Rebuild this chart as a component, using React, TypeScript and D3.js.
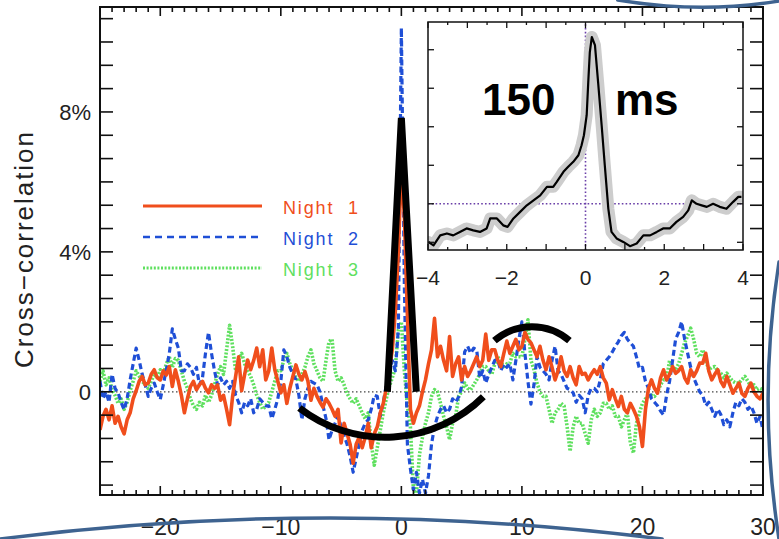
import React from "react";
import * as d3 from "d3";

// Lag axis of the three nightly cross-correlation traces (seconds)
const LAG_START = -25;
const LAG_STEP = 0.25;

// Night 1 cross-correlation, % (one value per 0.25 s of lag, -25 … 30)
const night1: number[] = [
  -1.09, -0.7, -0.5, -0.8, -0.4, -0.9, -0.7, -1.0, -1.2, -0.8, -0.6, -0.2,
  0.03, 0.3, 0.44, 0.2, 0.25, 0.5, 0.63, 0.4, 0.34, 0.6, 0.48, 0.72,
  0.15, 0.63, 0.3, -0.1, -0.6, -0.2, 0.15, 0.3, 0.06, 0.2, 0.3, 0.1,
  -0.03, 0.2, 0.1, 0.2, -0.24, -0.1, -0.5, -0.94, -0.13, 0.44, 1.0, 0.03,
  0.5, 0.91, 0.63, 0.9, 1.25, 0.72, 1.2, 0.34, 0.6, 1.25, 0.63, 0.3,
  -0.03, 0.2, -0.33, 0.1, 0.44, 0.77, 0.5, 0.34, 0.58, 0.3, -0.24, 0.1,
  -0.13, -0.3, -0.44, -0.2, -0.33, -0.5, -0.7, -0.5, -1.46, -0.9, -1.2, -1.5,
  -2.04, -1.5, -1.3, -1.6, -1.3, -0.9, -1.6, -1.2, -1.0, -0.6, -0.33, 0.1,
  0.63, 1.2, 2.3, 4.0, 6.5, 5.0, 2.2, -0.5, -0.9, -0.6, -0.4, 0.0,
  0.34, 0.8, 1.2, 2.1, 1.0, 1.3, 0.9, 0.6, 1.58, 0.44, 0.8, 1.0,
  0.34, 0.72, 0.44, 0.6, 0.8, 1.0, 0.72, 0.9, 1.65, 0.9, 1.2, 1.2,
  0.9, 0.72, 1.1, 1.45, 1.1, 1.3, 1.5, 1.2, 1.3, 1.7, 1.5, 1.4,
  1.2, 1.0, 1.3, 0.9, 0.63, 1.0, 0.7, 0.34, 0.6, 1.0, 0.6, 0.44,
  0.72, 0.4, 0.2, 0.72, 0.5, 0.53, 0.34, 0.5, 0.63, 0.5, 0.72, 0.4,
  0.25, -0.23, 0.06, -0.2, -0.42, -0.13, -0.5, -0.6, -0.33, -0.5, -0.7, -0.99,
  -1.56, -0.5, 0.1, 0.34, 0.1, -0.04, 0.4, 0.63, 0.34, 0.5, 0.72, 0.53,
  0.6, 0.72, 0.4, 0.25, 0.63, 0.44, 0.6, 0.82, 0.82, 1.1, 0.6, 0.34,
  0.5, 0.63, 0.3, 0.15, 0.44, 0.2, -0.04, 0.1, 0.25, -0.05, -0.13, 0.1,
  0.25, 0.0, -0.13, -0.2, -0.04,
];

// Night 2 cross-correlation, %
const night2: number[] = [
  0.3, -0.2, 0.0, -0.3, 0.5, 0.1, -0.03, -0.3, -0.51, -0.2, 0.34, 0.8,
  1.25, 0.9, 0.5, 0.2, -0.13, 0.1, 0.25, 0.0, -0.22, 0.2, 0.63, 1.1,
  1.8, 1.5, 1.25, 0.6, 0.6, 0.8, 0.7, 0.5, 0.7, 0.2, 0.4, 1.1,
  1.7, 1.1, 0.6, 0.2, 0.4, 0.2, 0.3, 0.1, 0.3, -0.1, -0.3, -0.6,
  -0.3, -0.4, -0.2, -0.6, -0.5, -0.2, -0.3, -0.4, -0.4, -0.77, -0.5, -0.2,
  0.3, 1.2, 1.0, 0.7, 0.5, 0.35, -0.1, -0.8, -0.2, 0.1, 0.3, 0.25,
  0.2, 0.0, -0.4, -0.77, -1.37, -1.1, -0.9, -0.7, -1.0, -1.25, -1.5, -1.85,
  -2.3, -1.9, -1.5, -1.1, -0.9, -0.8, -0.5, -0.1, -0.13, -0.7, -0.3, 0.2,
  0.5, 0.9, 0.6, 1.8, 10.4, 3.0, -1.5, -2.2, -2.8, -2.3, -2.9, -2.5,
  -2.9, -2.4, -1.5, -1.0, -0.7, -0.5, -0.4, -0.6, -0.5, -0.2, -0.3, -0.15,
  0.15, 1.14, 1.3, 1.1, 1.25, 1.2, 0.4, 0.6, 0.25, 0.5, 0.7, 0.9,
  0.9, 0.6, 0.8, 0.7, 0.8, 0.34, 0.9, 1.5, 2.0, 1.1, 0.3, -0.35,
  0.2, 1.0, 0.7, 0.6, 0.5, 0.34, 0.9, 1.3, 0.6, 0.5, 0.3, 0.1,
  0.06, -0.03, -0.3, -0.1, -0.2, -0.6, -0.1, 0.1, 0.1, 0.0, 0.34, 0.8,
  0.9, 1.0, 1.14, 1.3, 1.43, 1.6, 1.7, 1.5, 1.4, 1.3, 1.0, 0.66,
  0.7, 0.3, 0.1, -0.2, -0.3, -0.4, -0.55, -0.66, -0.1, 0.3, 0.9, 1.5,
  1.7, 2.0, 1.5, 1.1, 0.7, 0.4, 0.2, 0.0, -0.1, -0.4, -0.3, -0.5,
  -0.7, -0.5, -0.65, -0.94, -0.8, -1.0, -0.6, -0.3, -0.4, -0.2, -0.3, -0.5,
  -0.4, -0.6, -0.9, -0.7, -1.1,
];

// Night 3 cross-correlation, %
const night3: number[] = [
  0.3, 0.6, 0.2, 0.4, 0.06, -0.1, -0.33, -0.2, -0.5, -0.3, 0.03, 0.3,
  0.6, 0.45, 0.3, 0.2, 0.1, 0.3, 0.5, 0.4, 0.63, 0.5, 0.8, 1.0,
  0.7, 0.95, 0.9, 0.6, 0.3, 0.1, -0.2, -0.4, -0.5, -0.3, -0.4, -0.1,
  -0.3, -0.1, 0.2, 0.5, 0.72, 0.5, 1.2, 1.9, 1.3, 0.6, 0.9, 1.1,
  0.8, 0.6, 0.44, 0.2, -0.1, -0.3, -0.5, -0.4, -0.3, 0.0, 0.3, 0.6,
  0.6, 0.9, 1.1, 0.8, 0.6, 0.4, 0.3, 0.5, 0.7, 1.0, 1.2, 0.8,
  0.6, 0.4, 0.3, 0.9, 1.44, 1.5, 0.6, 0.3, 0.4, 0.2, -0.05, -0.2,
  -0.33, -0.2, -0.4, -0.6, -0.77, -0.6, -1.46, -2.1, -1.6, -1.1, -0.6, -0.2,
  0.15, 0.4, 0.7, 1.77, 2.0, 0.6, -0.4, -1.0, -2.8, -2.9, -1.8, -1.3,
  -0.9, -0.6, -0.13, 0.06, 0.0, -0.33, -0.7, -1.0, -1.37, -0.9, -0.7, -0.13,
  0.0, 0.25, 0.1, 0.06, 0.2, 0.34, 0.5, 0.72, 0.72, 0.6, 0.5, 0.8,
  1.0, 0.85, 0.72, 0.8, 0.82, 1.1, 1.0, 1.0, 1.0, 1.5, 2.06, 0.9,
  0.63, 0.25, 0.0, -0.13, -0.13, -0.5, -0.9, -0.6, -0.5, -0.33, -0.4, -1.0,
  -1.7, -1.0, -0.7, -0.9, -0.9, -1.2, -1.47, -0.8, -0.5, -0.7, -0.6, -0.33,
  -0.33, -0.5, -0.4, -0.7, -0.7, -1.0, -0.8, -0.6, -1.47, -1.75, -0.9, -0.6,
  -0.33, -0.2, -0.13, -0.1, -0.13, 0.0, 0.2, 0.34, 0.34, 0.9, 0.7, 0.63,
  0.8, 1.1, 1.4, 1.6, 1.82, 1.5, 1.1, 1.0, 1.2, 0.9, 0.63, 0.7,
  0.72, 0.6, 0.53, 0.4, 0.53, 0.4, 0.3, 0.25, 0.25, 0.35, 0.44, 0.3,
  0.15, 0.2, 0.06, 0.1, 0.06,
];

// Inset: averaged cross-correlation around zero lag
const insetLag: number[] = [
  -3.99, -3.86, -3.69, -3.52, -3.36, -3.19, -3.02, -2.85, -2.68, -2.51,
  -2.42, -2.25, -2.09, -1.98, -1.83, -1.66, -1.49, -1.32, -1.15, -0.98,
  -0.82, -0.73, -0.56, -0.44, -0.31, -0.18, -0.1, -0.04, 0.03, 0.07,
  0.11, 0.16, 0.24, 0.32, 0.41, 0.49, 0.58, 0.66, 0.79, 0.96,
  1.13, 1.3, 1.47, 1.64, 1.81, 1.97, 2.14, 2.31, 2.48, 2.61,
  2.7, 2.82, 2.95, 3.08, 3.24, 3.41, 3.58, 3.75, 3.88, 3.96,
];
const insetCorr: number[] = [
  0.01, -0.08, 0.18, 0.23, 0.18, 0.27, 0.36, 0.31, 0.27, 0.36,
  0.62, 0.62, 0.44, 0.4, 0.62, 0.79, 0.96, 1.09, 1.22, 1.44,
  1.44, 1.57, 1.83, 1.96, 2.09, 2.26, 2.52, 2.78, 3.3, 4.16,
  4.94, 5.33, 5.12, 4.16, 3.04, 2.0, 0.87, 0.27, 0.1, 0.01,
  -0.1, -0.03, 0.18, 0.18, 0.27, 0.36, 0.36, 0.53, 0.66, 0.83,
  1.09, 1.0, 0.96, 0.92, 1.0, 0.92, 0.87, 1.05, 1.18, 1.18,
];
const INSET_BASELINE = 1;

const xTickValues = [-20, -10, 0, 10, 20, 30];
const yTickValues = [0, 4, 8];
const yTickLabels = ["0", "4%", "8%"];
const insetXTickValues = [-4, -2, 0, 2, 4];
const seriesNames = ["Night 1", "Night 2", "Night 3"];

// Hand-drawn highlight marks, in lag (s) / correlation (%) units
const peakMarker: [number, number][] = [[-1.16, 0], [0, 7.83], [1.24, 0]];
const troughArc: [number, number][] = [[-8.46, -0.46], [-0.58, -1.29], [6.8, -0.14]];
const crestArc: [number, number][] = [[7.72, 1.46], [10.87, 1.86], [13.94, 1.46]];

const W = 779;
const H = 539;
const FONT = "'Liberation Sans', Arial, Helvetica, sans-serif";
const ORANGE = "#f04e1c";
const BLUE = "#1f4fd6";
const GREEN = "#5fe05f";
const FRAME_BLUE = "#3e6390";

function fmtTick(v: number): string {
  return v < 0 ? "\u2212" + Math.abs(v) : String(v);
}

// circular arc passing through three screen points
function arcThrough(p: [number, number][]): string {
  const [[x1, y1], [x2, y2], [x3, y3]] = p;
  const d = 2 * (x1 * (y2 - y3) + x2 * (y3 - y1) + x3 * (y1 - y2));
  const s1 = x1 * x1 + y1 * y1, s2 = x2 * x2 + y2 * y2, s3 = x3 * x3 + y3 * y3;
  const ux = (s1 * (y2 - y3) + s2 * (y3 - y1) + s3 * (y1 - y2)) / d;
  const uy = (s1 * (x3 - x2) + s2 * (x1 - x3) + s3 * (x2 - x1)) / d;
  const r = Math.hypot(x1 - ux, y1 - uy);
  const cross = (x2 - x1) * (y3 - y1) - (y2 - y1) * (x3 - x1);
  return `M${x1},${y1}A${r},${r} 0 0 ${cross > 0 ? 1 : 0} ${x3},${y3}`;
}

export default function App() {
  const x = d3.scaleLinear().domain([-25, 30]).range([100, 763]);
  const y = d3.scaleLinear().domain([-2.95, 11]).range([495, 7]);
  const [x0, x1] = x.range();
  const [yb, yt] = y.range();

  const ix = d3.scaleLinear().domain([-4, 4]).range([428, 743]);
  const iy = d3.scaleLinear().domain([-0.2, 5.72]).range([250, 22]);
  const [iyb, iyt] = iy.range();

  const line = d3
    .line<number>()
    .x((_, i) => x(LAG_START + i * LAG_STEP))
    .y((d) => y(d));

  const insetLine = d3
    .line<number>()
    .x((_, i) => ix(insetLag[i]))
    .y((d) => iy(d));

  const minorX = d3.range(-25, 31, 1);
  const minorY = d3.range(-4, 17).map((k) => (k * 2) / 3);

  const toPx = (pts: [number, number][]): [number, number][] =>
    pts.map(([a, b]) => [x(a), y(b)]);

  const legend = [
    { name: seriesNames[0], color: ORANGE, dash: "none", w: 2.8 },
    { name: seriesNames[1], color: BLUE, dash: "7,5", w: 2.6 },
    { name: seriesNames[2], color: GREEN, dash: "2,1.6", w: 3.2 },
  ];

  const [pl, pa, pr] = toPx(peakMarker);

  return (
    <div style={{ position: "absolute", left: 0, top: 0 }}>
      <svg width={W} height={H} style={{ display: "block", background: "#fff" }}>
        <defs>
          <clipPath id="plot-area">
            <rect x={x0} y={yt} width={x1 - x0} height={yb - yt} />
          </clipPath>
          <clipPath id="inset-area">
            <rect x={ix(-4)} y={iyt} width={ix(4) - ix(-4)} height={iyb - iyt} />
          </clipPath>
        </defs>

        {/* zero line */}
        <line x1={x0} x2={x1} y1={y(0)} y2={y(0)} stroke="#444" strokeWidth={1.3} strokeDasharray="1.5,2.5" />

        {/* traces */}
        <g clipPath="url(#plot-area)" fill="none" strokeLinejoin="round">
          <path d={line(night3) ?? ""} stroke={GREEN} strokeWidth={3.6} strokeDasharray="2,1.6" />
          <path d={line(night2) ?? ""} stroke={BLUE} strokeWidth={3.2} strokeDasharray="6,3.5" />
          <path d={line(night1) ?? ""} stroke={ORANGE} strokeWidth={3.6} />
        </g>

        {/* frame and ticks */}
        <rect x={x0} y={yt} width={x1 - x0} height={yb - yt} fill="none" stroke="#111" strokeWidth={2} />
        <g stroke="#111" strokeWidth={1.6}>
          {minorX.map((v) => {
            const major = v % 10 === 0;
            const len = major ? 9 : 5;
            return (
              <g key={"xt" + v}>
                <line x1={x(v)} x2={x(v)} y1={yb} y2={yb - len} />
                <line x1={x(v)} x2={x(v)} y1={yt} y2={yt + len} />
              </g>
            );
          })}
          {minorY.map((v, i) => (
            <g key={"yt" + i}>
              <line x1={x0} x2={x0 + 13} y1={y(v)} y2={y(v)} />
              <line x1={x1} x2={x1 - 13} y1={y(v)} y2={y(v)} />
            </g>
          ))}
        </g>
        <g fontFamily={FONT} fontSize={22} fill="#222">
          {yTickValues.map((v, i) => (
            <text key={"yl" + v} x={91} y={y(v) + 8} textAnchor="end">
              {yTickLabels[i]}
            </text>
          ))}
          {xTickValues.map((v) => (
            <text key={"xl" + v} x={x(v)} y={535} textAnchor="middle" fontSize={23}>
              {fmtTick(v)}
            </text>
          ))}
        </g>
        <text
          transform="translate(33,250) rotate(-90)"
          textAnchor="middle"
          fontFamily={FONT}
          fontSize={26}
          fill="#222"
          textLength={236}
          lengthAdjust="spacing"
        >
          Cross{"\u2212"}correlation
        </text>

        {/* legend */}
        <g fontFamily={FONT} fontSize={18}>
          {legend.map((l, i) => (
            <g key={l.name} transform={`translate(0,${206 + i * 31})`}>
              <line x1={143} x2={262} y1={0} y2={0} stroke={l.color} strokeWidth={l.w} strokeDasharray={l.dash} />
              <text x={283} y={8} fill={l.color} textLength={75} lengthAdjust="spacing">
                {l.name.replace(" ", "\u00a0\u00a0")}
              </text>
            </g>
          ))}
        </g>

        {/* inset */}
        <rect x={ix(-4)} y={iyt} width={ix(4) - ix(-4)} height={iyb - iyt} fill="#fff" />
        <g clipPath="url(#inset-area)">
          <line x1={ix(-4)} x2={ix(4)} y1={iy(INSET_BASELINE)} y2={iy(INSET_BASELINE)} stroke="#6a3fa8" strokeWidth={1.6} strokeDasharray="1.6,2.2" />
          <line x1={ix(0)} x2={ix(0)} y1={iyb} y2={iyt} stroke="#6a3fa8" strokeWidth={1.6} strokeDasharray="1.6,2.2" />
          <path d={insetLine(insetCorr) ?? ""} fill="none" stroke="#cdcdcd" strokeWidth={12} strokeLinejoin="round" strokeLinecap="round" />
          <path d={insetLine(insetCorr) ?? ""} fill="none" stroke="#000" strokeWidth={2.2} strokeLinejoin="round" />
        </g>
        <rect x={ix(-4)} y={iyt} width={ix(4) - ix(-4)} height={iyb - iyt} fill="none" stroke="#111" strokeWidth={1.5} />
        <g stroke="#111" strokeWidth={1.3}>
          {d3.range(-4, 4.01, 0.5).map((v) => {
            const len = Number.isInteger(v) ? 6 : 3;
            return (
              <g key={"ixt" + v}>
                <line x1={ix(v)} x2={ix(v)} y1={iyb} y2={iyb - len} />
                <line x1={ix(v)} x2={ix(v)} y1={iyt} y2={iyt + len} />
              </g>
            );
          })}
          {d3.range(0, 6).map((v) => (
            <g key={"iyt" + v}>
              <line x1={ix(-4)} x2={ix(-4) + 6} y1={iy(v)} y2={iy(v)} />
              <line x1={ix(4)} x2={ix(4) - 6} y1={iy(v)} y2={iy(v)} />
            </g>
          ))}
        </g>
        <g fontFamily={FONT} fontSize={21} fill="#222">
          {insetXTickValues.map((v) => (
            <text key={"ixl" + v} x={ix(v)} y={285} textAnchor="middle">
              {fmtTick(v)}
            </text>
          ))}
        </g>

        {/* highlight marks */}
        <g fill="none" stroke="#000" strokeWidth={7}>
          <path d={`M${pl[0]},${pl[1]}L${pa[0]},${pa[1]}L${pr[0]},${pr[1]}`} strokeLinejoin="bevel" />
          <path d={arcThrough(toPx(troughArc))} />
          <path d={arcThrough(toPx(crestArc))} />
        </g>
        <g fontFamily={FONT} fontWeight="bold" fontSize={44} fill="#000">
          <text x={482} y={115}>150</text>
          <text x={615} y={115}>ms</text>
        </g>

        {/* outer framing strokes */}
        <g fill="none" stroke={FRAME_BLUE} strokeWidth={3.5} strokeLinecap="round">
          <path d={`M${W * 0.793},0 Q${W * 0.9},${H * 0.026} ${W},${H * 0.002}`} />
          <path d={`M${W},${H * 0.486} Q${W * 0.972},${H * 0.742} ${W},${H}`} />
          <path d={`M0,${H} Q${W * 0.424},${H * 0.922} ${W * 0.85},${H}`} />
        </g>
      </svg>
    </div>
  );
}
